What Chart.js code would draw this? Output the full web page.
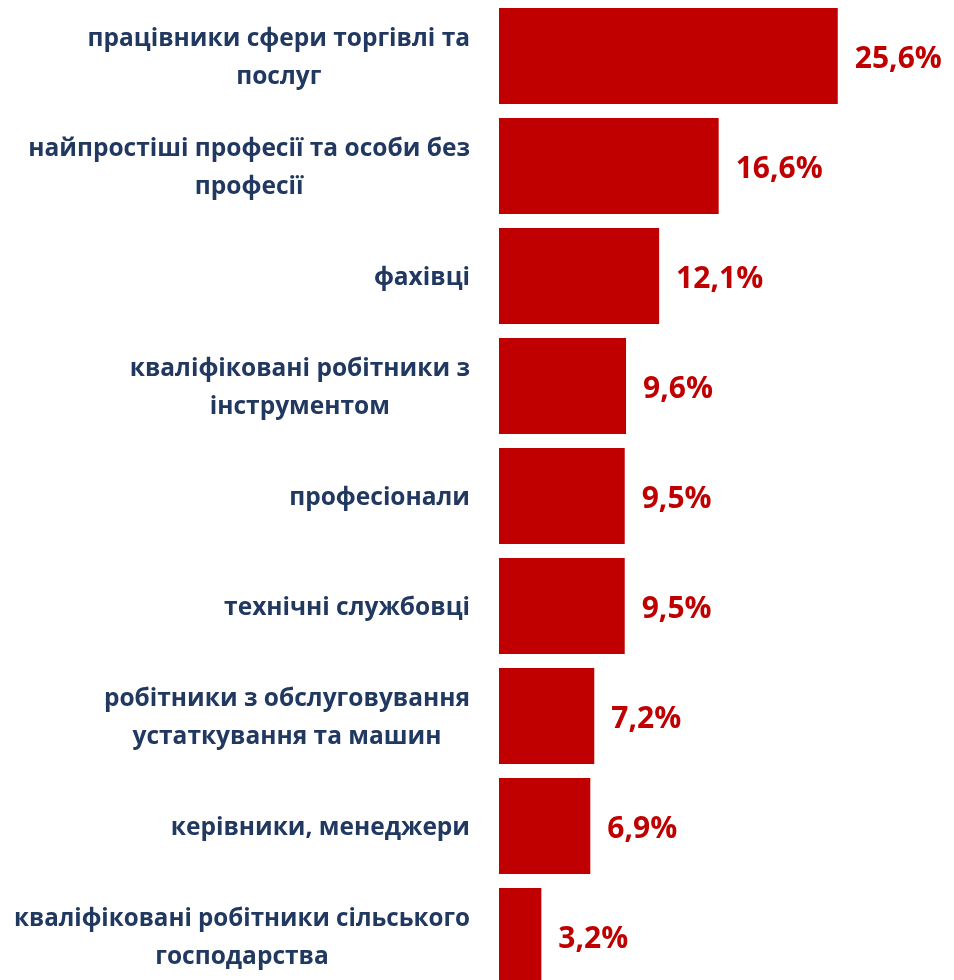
<!DOCTYPE html>
<html>
<head>
<meta charset="utf-8">
<script src="https://cdn.jsdelivr.net/npm/chart.js@4.4.0/dist/chart.umd.min.js"></script>
<style>
    html, body { margin: 0; padding: 0; background: #fff; overflow: hidden; }
    #wrap { width: 954px; height: 992px; position: relative; }
</style>
</head>
<body>
<div id="wrap"><canvas id="chart"></canvas></div>
<script>
const categories = [
    ['працівники сфери торгівлі та', 'послуг'],
    ['найпростіші професії та особи без', 'професії'],
    ['фахівці'],
    ['кваліфіковані робітники з', 'інструментом'],
    ['професіонали'],
    ['технічні службовці'],
    ['робітники з обслуговування', 'устаткування та машин'],
    ['керівники, менеджери'],
    ['кваліфіковані робітники сільського', 'господарства']
];
const shares = [25.6, 16.6, 12.1, 9.6, 9.5, 9.5, 7.2, 6.9, 3.2];
const valueLabels = ['25,6%', '16,6%', '12,1%', '9,6%', '9,5%', '9,5%', '7,2%', '6,9%', '3,2%'];

const barRed = '#C00000';
const labelNavy = '#213860';
const labelFont = 'bold 24.5px "Open Sans"';
const valueFont = 'bold 30px "Open Sans"';

// category labels: block right-aligned to the axis, lines centred inside the block
const categoryLabels = {
    id: 'categoryLabels',
    afterDraw(chart) {
        const ctx = chart.ctx;
        const yScale = chart.scales.y;
        const right = chart.chartArea.left - 29;
        const lineH = 38;
        ctx.save();
        ctx.font = labelFont;
        ctx.fillStyle = labelNavy;
        ctx.textAlign = 'center';
        ctx.textBaseline = 'alphabetic';
        categories.forEach((lines, i) => {
            const cy = yScale.getPixelForValue(i);
            const w = Math.min(456, Math.max(...lines.map(l => ctx.measureText(l).width)));
            const cx = right - w / 2;
            const first = cy + 9 - (lines.length - 1) * lineH / 2;
            lines.forEach((l, k) => ctx.fillText(l, cx, first + k * lineH, 456));
        });
        ctx.restore();
    }
};

const valueTags = {
    id: 'valueTags',
    afterDatasetsDraw(chart) {
        const ctx = chart.ctx;
        const meta = chart.getDatasetMeta(0);
        ctx.save();
        ctx.font = valueFont;
        ctx.fillStyle = barRed;
        ctx.textAlign = 'left';
        ctx.textBaseline = 'alphabetic';
        meta.data.forEach((bar, i) => {
            ctx.fillText(valueLabels[i], bar.x + 17, bar.y + 12);
        });
        ctx.restore();
    }
};

new Chart(document.getElementById('chart'), {
    type: 'bar',
    data: {
        labels: categories,
        datasets: [{
            data: shares,
            backgroundColor: barRed,
            borderWidth: 0,
            categoryPercentage: 1,
            barPercentage: 0.873
        }]
    },
    options: {
        indexAxis: 'y',
        responsive: true,
        maintainAspectRatio: false,
        animation: false,
        layout: { padding: { left: 0, right: 58, top: 1, bottom: 1 } },
        plugins: {
            legend: { display: false },
            tooltip: { enabled: false }
        },
        scales: {
            x: { display: false, min: 0, max: 30 },
            y: {
                grid: { display: false, drawTicks: false },
                border: { display: false },
                ticks: { display: false },
                afterFit(scale) { scale.width = 499; }
            }
        }
    },
    plugins: [categoryLabels, valueTags]
});
</script>
</body>
</html>
